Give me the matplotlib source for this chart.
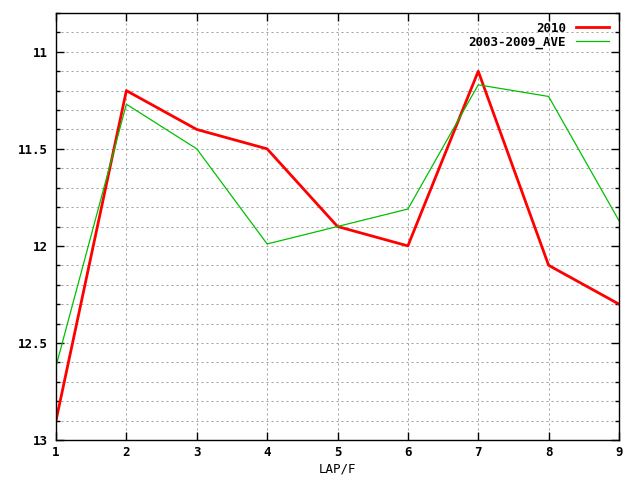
import matplotlib
matplotlib.use('Agg')
import matplotlib.pyplot as plt
from matplotlib.ticker import MultipleLocator

laps = [1, 2, 3, 4, 5, 6, 7, 8, 9]
y2010 = [12.9, 11.2, 11.4, 11.5, 11.9, 12.0, 11.1, 12.1, 12.3]
y_ave = [12.62, 11.27, 11.5, 11.99, 11.9, 11.81, 11.17, 11.23, 11.87]

plt.rcParams['font.family'] = 'DejaVu Sans Mono'
plt.rcParams['font.weight'] = 'bold'

fig = plt.figure(figsize=(6.4, 4.8), dpi=100)
ax = fig.add_axes([56 / 640, 40 / 480, 563 / 640, 427 / 480])

ax.plot(laps, y2010, color='#ff0000', linewidth=2, label='2010')
ax.plot(laps, y_ave, color='#00c000', linewidth=0.9, label='2003-2009_AVE')

ax.set_xlim(1, 9)
ax.set_ylim(13, 10.8)
ax.xaxis.set_major_locator(MultipleLocator(1))
ax.yaxis.set_major_locator(MultipleLocator(0.5))
ax.yaxis.set_minor_locator(MultipleLocator(0.1))
ax.yaxis.set_major_formatter(plt.FuncFormatter(lambda v, p: f'{v:g}'))

grid_style = dict(color='#a0a0a0', linestyle=(0, (2, 3)), linewidth=0.72)
ax.grid(True, which='both', axis='y', **grid_style)
ax.grid(True, which='major', axis='x', **grid_style)
ax.tick_params(which='both', direction='in', top=True, right=True, labelsize=9, width=1)
ax.tick_params(which='major', length=6)
ax.tick_params(which='minor', length=3)
ax.tick_params(axis='x', pad=4)
ax.tick_params(axis='y', pad=6)
for s in ax.spines.values():
    s.set_linewidth(1)

ax.set_xlabel('LAP/F', fontsize=9, labelpad=3)

leg = ax.legend(loc='upper right', frameon=False, fontsize=9, handlelength=2.6,
                markerfirst=False, borderaxespad=0.3, labelspacing=0.05,
                bbox_to_anchor=(0.997, 1.0))
for t in leg.get_texts():
    t.set_ha('right')

fig.savefig('out.png', dpi=100)
